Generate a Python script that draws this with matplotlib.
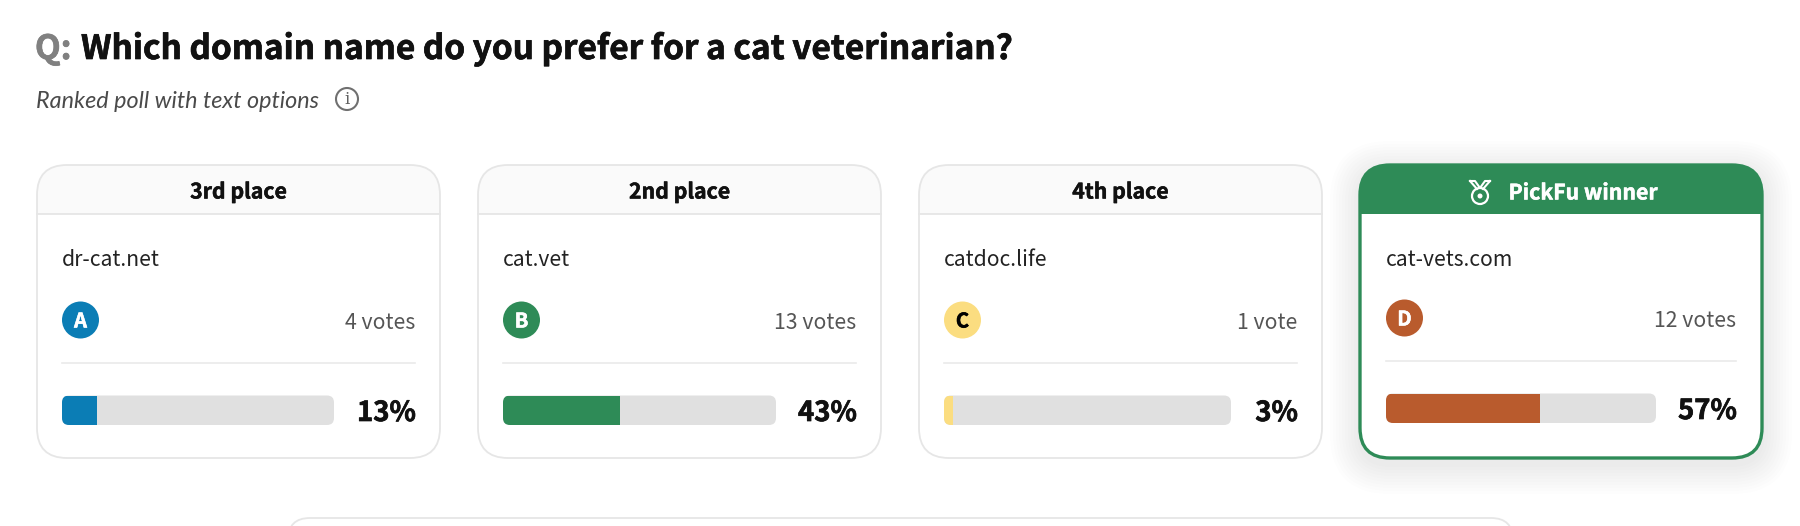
import matplotlib
matplotlib.use('Agg')
import matplotlib.pyplot as plt
import matplotlib.patheffects as pe
from matplotlib.patches import FancyBboxPatch, Circle

plt.rcParams['font.family'] = ['Noto Sans CJK SC', 'DejaVu Sans']

question = 'Which domain name do you prefer for a cat veterinarian?'
subtitle = 'Ranked poll with text options'
places = ['3rd place', '2nd place', '4th place', 'PickFu winner']
domains = ['dr-cat.net', 'cat.vet', 'catdoc.life', 'cat-vets.com']
letters = ['A', 'B', 'C', 'D']
votes = ['4 votes', '13 votes', '1 vote', '12 votes']
percents = [13, 43, 3, 57]
colors = ['#0B7DB5', '#2E8B57', '#FBDD80', '#B95B2D']
letter_colors = ['white', 'white', 'black', 'white']

card_left = [37, 478, 919, 1360]
card_right = [440, 881, 1322, 1762]
track_right = [334, 776, 1231, 1656]
y_shift = [0, 0, 0, -1]

BORDER = '#E6E6E6'
GREEN = '#2E8B57'

fig = plt.figure(figsize=(18, 5.26), dpi=100)
ax = fig.add_axes([0, 0, 1, 1])
ax.set_xlim(0, 1800)
ax.set_ylim(526, 0)
ax.axis('off')


def rounded(x0, y0, x1, y1, r, **kw):
    p = FancyBboxPatch((x0, y0), x1 - x0, y1 - y0,
                       boxstyle=f'round,pad=0,rounding_size={r}', **kw)
    ax.add_patch(p)
    return p


def heavy(t, width=0.5):
    # the font stops short of the reference weight, so thicken it a little
    t.set_path_effects([pe.withStroke(linewidth=width, foreground=t.get_color())])
    return t


# title
heavy(ax.text(35, 49.5, 'Q:', fontsize=24, fontweight=900, color='#808080', va='center'))
heavy(ax.text(81, 49.5, question, fontsize=24, fontweight=900, color='#111111', va='center'))
ax.text(36, 101, subtitle, fontsize=16.8, style='italic', family='Lato', color='#4A4A4A', va='center')
ax.add_patch(Circle((347, 99), 11, fc='none', ec='#707070', lw=1.5))
ax.text(347, 99, 'i', fontsize=12, family='DejaVu Serif', color='#606060', ha='center', va='center')

# shadow behind the winner card
for grow in range(30, 0, -3):
    rounded(card_left[3] - grow, 165 - grow + 6, card_right[3] + grow, 458 + grow + 6, 30 + grow,
            fc='#000000', ec='none', alpha=0.006, zorder=1)

for i in range(4):
    x0, x1 = card_left[i], card_right[i]
    winner = i == 3
    dy = y_shift[i]
    edge = GREEN if winner else BORDER
    card = rounded(x0, 165, x1, 458, 30, fc='white', ec='none', zorder=2)

    # header strip
    head = ax.barh((165 + 214) / 2, x1 - x0, left=x0, height=214 - 165,
                   color=GREEN if winner else '#FAFAFA', zorder=3)
    head[0].set_clip_path(card)
    if not winner:
        ax.plot([x0, x1], [214, 214], color=BORDER, lw=1.3, zorder=4)
    rounded(x0, 165, x1, 458, 30, fc='none', ec=edge, lw=2.4 if winner else 1.3, zorder=5)

    mid = (x0 + x1) / 2
    if winner:
        heavy(ax.text(1583, 193, places[i], fontsize=15.3, fontweight=900, color='white',
                      ha='center', va='center', zorder=6), 0.35)
        # medal icon
        ax.add_patch(Circle((1480, 196), 8, fc='none', ec='white', lw=1.6, zorder=6))
        ax.add_patch(Circle((1480, 196), 2.5, fc='white', ec='none', zorder=6))
        ax.plot([1470, 1475, 1480, 1485, 1490], [181, 181, 188, 181, 181], color='white', lw=1.5, zorder=6)
        ax.plot([1470, 1477], [181, 189], color='white', lw=1.5, zorder=6)
        ax.plot([1490, 1483], [181, 189], color='white', lw=1.5, zorder=6)
    else:
        heavy(ax.text(mid, 192, places[i], fontsize=15.3, fontweight=900, color='#111111',
                      ha='center', va='center', zorder=6), 0.35)

    left = x0 + 25 + (1 if winner else 0)
    right = x1 - 24 - (1 if not winner else 2)
    ax.text(left, 260, domains[i], fontsize=15.2, color='#222222', va='center', zorder=6)
    ax.add_patch(Circle((left + 18.5, 320 + dy * 2), 18.5, fc=colors[i], ec='none', zorder=6))
    heavy(ax.text(left + 18.5, 321 + dy * 2, letters[i], fontsize=14.5, fontweight=900,
                  color=letter_colors[i], ha='center', va='center', zorder=7), 0.4)
    ax.text(right, 323 + dy * 2, votes[i], fontsize=15.3, color='#555555', ha='right', va='center', zorder=6)
    ax.plot([left, right], [363 + dy * 2, 363 + dy * 2], color='#EAEAEA', lw=1.2, zorder=6)

    # percent bar
    top, bottom = 395.5 + dy * 2, 425 + dy * 2
    track = rounded(left, top, track_right[i], bottom, 7, fc='#E0E0E0', ec='none', zorder=6)
    fill = ax.barh((top + bottom) / 2, (track_right[i] - left) * percents[i] / 100, left=left,
                   height=bottom - top, color=colors[i], zorder=7)
    fill[0].set_clip_path(track)
    heavy(ax.text(right + 1, 413 + dy * 2, f'{percents[i]}%', fontsize=19.8, fontweight=900,
                  color='#111111', ha='right', va='center', zorder=7))

# top of the next panel, cut by the image edge
rounded(288, 518, 1513, 600, 22, fc='white', ec=BORDER, lw=1.3, zorder=2)

fig.savefig('out.png', dpi=100, facecolor='white')
